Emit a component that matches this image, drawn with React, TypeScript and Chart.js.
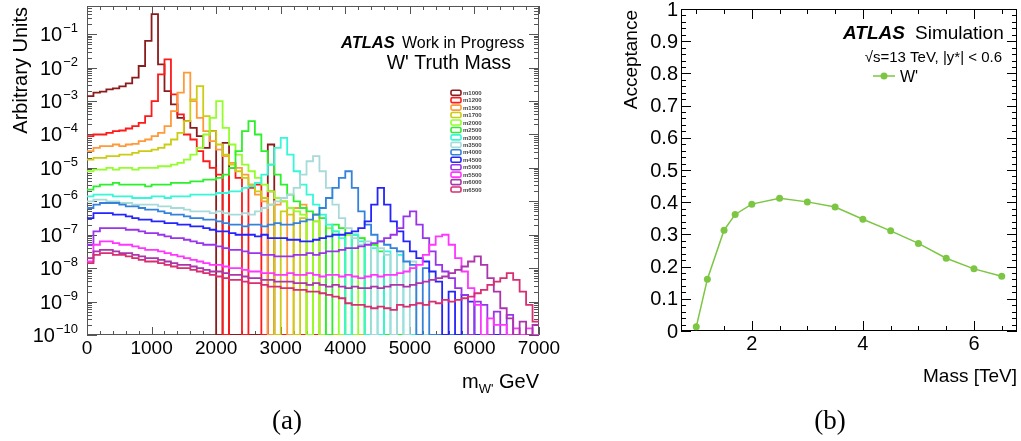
import React, { useEffect, useRef } from 'react';
import { Chart, registerables } from 'chart.js';

Chart.register(...registerables);

const FONT = '"Liberation Sans", Arial, Helvetica, sans-serif';
const SERIF = '"Liberation Serif", "DejaVu Serif", serif';

// ---------------- Left panel: W' truth mass histograms ----------------
// bins of 100 GeV from 0 to 7000 GeV; values are log10(bin content), -10 = empty bin
const BIN_WIDTH_GEV = 100;
const N_BINS = 70;

const sampleNames = ['m1000', 'm1200', 'm1500', 'm1700', 'm2000', 'm2500', 'm3000', 'm3500', 'm4000', 'm4500', 'm5000', 'm5500', 'm6000', 'm6500'];
const sampleColors = ['#8b1c1c', '#ff1a1a', '#ff9a3a', '#cccc14', '#92ff2a', '#2cf02c', '#36f8d8', '#a8dada', '#3582dc', '#2424ff', '#9a34ea', '#ff36ff', '#ac34ac', '#d82e72'];

const logM1000 = [-2.85, -2.75, -2.72, -2.65, -2.62, -2.56, -2.47, -2.3, -1.95, -1.2,
  -0.4, -1.9, -2.7, -3.1, -3.5, -3.6, -3.8, -4.05, -4.4, -3.9,
  -10, -4.25, -10, -10, -10, -10, -10, -10, -4.3, -10,
  -10, -10, -10, -10, -10, -10, -10, -10, -10, -10,
  -10, -10, -10, -10, -10, -10, -10, -10, -10, -10,
  -10, -10, -10, -10, -10, -10, -10, -10, -10, -10,
  -10, -10, -10, -10, -10, -10, -10, -10, -10, -10];
const logM1200 = [-4.05, -4.0, -4.0, -3.95, -3.9, -3.88, -3.82, -3.75, -3.65, -3.45,
  -3.0, -2.2, -1.75, -2.8, -3.4, -4.0, -4.15, -4.5, -4.8, -5.0,
  -5.2, -10, -5.0, -5.3, -10, -5.6, -5.5, -10, -5.7, -10,
  -10, -10, -10, -10, -10, -10, -10, -10, -10, -10,
  -10, -10, -10, -10, -10, -10, -10, -10, -10, -10,
  -10, -10, -10, -10, -10, -10, -10, -10, -10, -10,
  -10, -10, -10, -10, -10, -10, -10, -10, -10, -10];
const logM1500 = [-4.5, -4.4, -4.35, -4.35, -4.3, -4.35, -4.3, -4.28, -4.2, -4.15,
  -4.05, -3.95, -3.75, -3.3, -2.75, -2.15, -3.0, -3.5, -3.9, -4.2,
  -4.45, -4.65, -4.85, -5.0, -5.2, -5.5, -5.8, -6.0, -10, -6.1,
  -6.0, -10, -6.2, -6.1, -10, -6.4, -10, -10, -10, -10,
  -10, -10, -10, -10, -10, -10, -10, -10, -10, -10,
  -10, -10, -10, -10, -10, -10, -10, -10, -10, -10,
  -10, -10, -10, -10, -10, -10, -10, -10, -10, -10];
const logM1700 = [-4.75, -4.7, -4.7, -4.65, -4.65, -4.6, -4.6, -4.55, -4.5, -4.5,
  -4.45, -4.4, -4.3, -4.15, -3.95, -3.6, -2.95, -2.55, -3.45, -3.9,
  -4.3, -4.6, -4.9, -5.1, -5.3, -5.5, -5.7, -5.9, -6.1, -10,
  -6.3, -6.4, -10, -6.5, -10, -6.6, -10, -10, -10, -10,
  -10, -10, -10, -10, -10, -10, -10, -10, -10, -10,
  -10, -10, -10, -10, -10, -10, -10, -10, -10, -10,
  -10, -10, -10, -10, -10, -10, -10, -10, -10, -10];
const logM2000 = [-5.1, -5.05, -5.05, -5.0, -5.05, -5.0, -5.0, -5.05, -5.0, -5.0,
  -5.0, -4.95, -4.95, -4.9, -4.85, -4.75, -4.6, -4.4, -4.0, -3.5,
  -3.0, -3.8, -4.3, -4.6, -4.9, -5.1, -5.3, -5.5, -5.7, -5.9,
  -6.0, -6.2, -6.3, -6.4, -10, -6.6, -10, -6.8, -6.9, -10,
  -7.0, -10, -7.1, -10, -10, -10, -10, -10, -10, -10,
  -10, -10, -10, -10, -10, -10, -10, -10, -10, -10,
  -10, -10, -10, -10, -10, -10, -10, -10, -10, -10];
const logM2500 = [-5.65, -5.55, -5.5, -5.5, -5.45, -5.5, -5.5, -5.5, -5.5, -5.55,
  -5.5, -5.5, -5.5, -5.45, -5.45, -5.45, -5.4, -5.4, -5.35, -5.35,
  -5.3, -5.2, -5.0, -4.5, -3.9, -3.6, -4.0, -4.5, -4.9, -5.2,
  -5.5, -5.8, -6.0, -6.2, -6.3, -6.4, -6.5, -10, -6.7, -6.8,
  -10, -7.0, -7.1, -10, -7.3, -7.5, -10, -10, -10, -10,
  -10, -10, -10, -10, -10, -10, -10, -10, -10, -10,
  -10, -10, -10, -10, -10, -10, -10, -10, -10, -10];
const logM3000 = [-5.85, -5.8, -5.8, -5.8, -5.85, -5.85, -5.85, -5.9, -5.9, -5.9,
  -5.85, -5.85, -5.9, -5.85, -5.85, -5.85, -5.8, -5.8, -5.8, -5.8,
  -5.75, -5.75, -5.7, -5.7, -5.6, -5.55, -5.45, -5.2, -4.9, -4.4,
  -4.1, -4.6, -5.1, -5.5, -5.8, -6.1, -6.4, -6.7, -6.9, -7.1,
  -10, -7.0, -7.2, -10, -7.4, -10, -7.5, -10, -7.6, -10,
  -10, -10, -10, -10, -10, -10, -10, -10, -10, -10,
  -10, -10, -10, -10, -10, -10, -10, -10, -10, -10];
const logM3500 = [-6.0, -5.95, -5.95, -6.0, -6.0, -6.05, -6.05, -6.1, -6.1, -6.1,
  -6.1, -6.15, -6.15, -6.2, -6.2, -6.25, -6.3, -6.3, -6.3, -6.35,
  -6.3, -6.35, -6.4, -6.4, -6.35, -6.4, -6.3, -6.2, -6.1, -6.0,
  -5.9, -5.8, -5.6, -5.2, -4.8, -4.65, -5.1, -5.6, -6.1, -6.5,
  -6.8, -7.1, -7.3, -7.2, -10, -7.4, -7.6, -10, -7.5, -10,
  -7.8, -10, -10, -10, -10, -10, -10, -10, -10, -10,
  -10, -10, -10, -10, -10, -10, -10, -10, -10, -10];
const logM4000 = [-6.2, -6.1, -6.05, -6.05, -6.05, -6.1, -6.15, -6.15, -6.2, -6.25,
  -6.25, -6.3, -6.35, -6.4, -6.4, -6.45, -6.5, -6.5, -6.55, -6.55,
  -6.6, -6.65, -6.7, -6.7, -6.75, -6.7, -6.7, -6.75, -6.7, -6.65,
  -6.7, -6.7, -6.65, -6.6, -6.55, -6.4, -6.2, -5.9, -5.6, -5.3,
  -5.1, -5.6, -6.3, -6.7, -7.0, -7.2, -7.3, -7.4, -7.5, -7.8,
  -7.9, -10, -8.0, -10, -10, -10, -10, -10, -10, -10,
  -10, -10, -10, -10, -10, -10, -10, -10, -10, -10];
const logM4500 = [-6.5, -6.35, -6.35, -6.35, -6.4, -6.4, -6.45, -6.5, -6.55, -6.55,
  -6.6, -6.6, -6.65, -6.65, -6.7, -6.7, -6.75, -6.75, -6.8, -6.85,
  -6.9, -6.9, -6.95, -7.0, -7.0, -7.0, -7.05, -7.0, -7.1, -7.1,
  -7.1, -7.15, -7.15, -7.2, -7.2, -7.15, -7.1, -7.05, -7.0, -7.0,
  -6.95, -6.9, -6.8, -6.6, -6.1, -5.6, -6.1, -6.6, -6.9, -7.2,
  -7.5, -7.7, -7.8, -8.1, -8.4, -10, -8.7, -10, -8.8, -9.0,
  -10, -10, -10, -10, -10, -10, -10, -10, -10, -10];
const logM5000 = [-7.3, -6.9, -6.8, -6.8, -6.8, -6.8, -6.85, -6.85, -6.9, -6.95,
  -6.95, -7.0, -7.05, -7.1, -7.1, -7.15, -7.2, -7.25, -7.3, -7.3,
  -7.35, -7.4, -7.45, -7.45, -7.5, -7.55, -7.55, -7.6, -7.6, -7.65,
  -7.65, -7.65, -7.6, -7.6, -7.55, -7.6, -7.55, -7.5, -7.5, -7.45,
  -7.4, -7.4, -7.35, -7.3, -7.25, -7.2, -7.1, -7.0, -6.8, -6.45,
  -6.3, -6.7, -7.1, -7.5, -7.9, -8.1, -8.3, -8.6, -8.8, -10,
  -9.0, -9.1, -10, -9.3, -10, -9.4, -10, -10, -10, -10];
const logM5500 = [-7.8, -7.3, -7.2, -7.2, -7.25, -7.3, -7.3, -7.35, -7.4, -7.45,
  -7.45, -7.5, -7.55, -7.6, -7.65, -7.7, -7.75, -7.8, -7.85, -7.9,
  -7.9, -7.95, -8.0, -8.0, -8.05, -8.1, -8.1, -8.15, -8.15, -8.2,
  -8.2, -8.15, -8.2, -8.2, -8.15, -8.2, -8.25, -8.2, -8.2, -8.25,
  -8.2, -8.25, -8.3, -8.25, -8.2, -8.25, -8.2, -8.2, -8.15, -8.1,
  -8.0, -7.9, -7.6, -7.3, -7.05, -7.0, -7.3, -7.7, -8.1, -8.6,
  -9.1, -10, -9.5, -9.7, -9.7, -10, -9.8, -10, -9.8, -10];
const logM6000 = [-7.7, -7.5, -7.45, -7.45, -7.5, -7.55, -7.55, -7.6, -7.65, -7.7,
  -7.7, -7.75, -7.8, -7.85, -7.9, -7.9, -7.95, -8.0, -8.05, -8.1,
  -8.1, -8.15, -8.2, -8.2, -8.25, -8.3, -8.3, -8.35, -8.35, -8.4,
  -8.4, -8.4, -8.45, -8.45, -8.5, -8.45, -8.5, -8.55, -8.5, -8.55,
  -8.6, -8.55, -8.6, -8.6, -8.55, -8.6, -8.55, -8.5, -8.5, -8.55,
  -8.5, -8.45, -8.4, -8.35, -8.3, -8.25, -8.15, -8.05, -7.95, -7.8,
  -7.65, -7.9, -8.3, -8.7, -9.2, -9.5, -10, -9.6, -10, -9.7];
const logM6500 = [-7.85, -7.6, -7.55, -7.55, -7.6, -7.6, -7.65, -7.7, -7.75, -7.8,
  -7.8, -7.85, -7.9, -7.95, -8.0, -8.0, -8.05, -8.1, -8.15, -8.2,
  -8.25, -8.3, -8.35, -8.35, -8.4, -8.45, -8.45, -8.5, -8.55, -8.55,
  -8.6, -8.6, -8.65, -8.65, -8.7, -8.7, -8.75, -8.8, -8.85, -8.9,
  -9.05, -9.1, -9.1, -9.15, -9.2, -9.15, -9.2, -9.25, -9.1, -9.15,
  -9.1, -9.05, -9.1, -9.0, -9.05, -8.95, -9.0, -8.95, -8.9, -8.85,
  -8.75, -8.65, -8.5, -8.4, -8.3, -8.15, -8.35, -8.7, -9.1, -9.6];

const histLogs = [logM1000, logM1200, logM1500, logM1700, logM2000, logM2500, logM3000, logM3500, logM4000, logM4500, logM5000, logM5500, logM6000, logM6500];

const leftXTicks = [0, 1000, 2000, 3000, 4000, 5000, 6000, 7000];
const leftYExponents = [-10, -9, -8, -7, -6, -5, -4, -3, -2, -1];

// ---------------- Right panel: acceptance ----------------
const accMassTeV = [1.0, 1.2, 1.5, 1.7, 2.0, 2.5, 3.0, 3.5, 4.0, 4.5, 5.0, 5.5, 6.0, 6.5];
const acceptance = [0.013, 0.161, 0.313, 0.362, 0.394, 0.412, 0.401, 0.385, 0.347, 0.311, 0.272, 0.226, 0.193, 0.170];
const accYTicks = [0, 0.1, 0.2, 0.3, 0.4, 0.5, 0.6, 0.7, 0.8, 0.9, 1];
const accXTicks = [2, 4, 6];
const ACC_COLOR = '#7cc644';

function line(ctx: CanvasRenderingContext2D, x1: number, y1: number, x2: number, y2: number) {
  ctx.moveTo(x1, y1);
  ctx.lineTo(x2, y2);
}

const leftDeco = {
  id: 'leftDeco',
  beforeDatasetsDraw(chart: any) {
    const { ctx, chartArea: a } = chart;
    const xs = chart.scales.x;
    const ys = chart.scales.y;
    ctx.save();
    ctx.strokeStyle = '#555';
    ctx.lineWidth = 1;
    ctx.beginPath();
    for (let v = 0; v <= 7000; v += 200) {
      const px = Math.round(xs.getPixelForValue(v)) + 0.5;
      const len = v % 1000 === 0 ? 8 : 4;
      line(ctx, px, a.bottom, px, a.bottom - len);
      line(ctx, px, a.top, px, a.top + len);
    }
    for (let e = -10; e <= -1; e++) {
      for (let m = 1; m <= 9; m++) {
        const v = m * Math.pow(10, e);
        if (v > ys.max) break;
        const py = Math.round(ys.getPixelForValue(v)) + 0.5;
        const len = m === 1 ? 10 : 5;
        line(ctx, a.left, py, a.left + len, py);
        line(ctx, a.right, py, a.right - len, py);
      }
    }
    ctx.stroke();
    ctx.strokeRect(Math.round(a.left) + 0.5, Math.round(a.top) + 0.5, Math.round(a.right - a.left) - 1, Math.round(a.bottom - a.top) - 1);
    ctx.restore();
  },
  afterDraw(chart: any) {
    const { ctx, chartArea: a } = chart;
    const xs = chart.scales.x;
    const ys = chart.scales.y;
    ctx.save();
    ctx.fillStyle = '#000';
    // y labels 10^n
    for (const e of leftYExponents) {
      const py = ys.getPixelForValue(Math.pow(10, e));
      const expStr = '\u2212' + String(-e);
      ctx.font = `13px ${FONT}`;
      const ew = ctx.measureText(expStr).width;
      ctx.font = `20px ${FONT}`;
      const bw = ctx.measureText('10').width;
      const R = 78;
      ctx.textAlign = 'left';
      ctx.textBaseline = 'alphabetic';
      ctx.fillText('10', R - ew - bw - 1, py + 7);
      ctx.font = `13px ${FONT}`;
      ctx.fillText(expStr, R - ew, py - 2);
    }
    // x labels
    ctx.font = `19px ${FONT}`;
    ctx.textAlign = 'center';
    ctx.textBaseline = 'middle';
    for (const v of leftXTicks) {
      ctx.fillText(String(v), xs.getPixelForValue(v), a.bottom + 14);
    }
    // x title: m_W' GeV
    ctx.textBaseline = 'alphabetic';
    ctx.textAlign = 'left';
    ctx.font = `20px ${FONT}`;
    const wm = ctx.measureText('m').width;
    const wg = ctx.measureText(' GeV').width;
    ctx.font = `13px ${FONT}`;
    const ws = ctx.measureText("W'").width;
    let x0 = a.right - (wm + ws + wg);
    ctx.font = `20px ${FONT}`;
    ctx.fillText('m', x0, 388);
    ctx.font = `13px ${FONT}`;
    ctx.fillText("W'", x0 + wm, 393);
    ctx.font = `20px ${FONT}`;
    ctx.fillText(' GeV', x0 + wm + ws, 388);
    // y title
    ctx.save();
    ctx.translate(21, 7);
    ctx.rotate(-Math.PI / 2);
    ctx.textAlign = 'right';
    ctx.textBaseline = 'middle';
    ctx.font = `20px ${FONT}`;
    ctx.fillText('Arbitrary Units', 0, 0);
    ctx.restore();
    // ATLAS label
    ctx.textAlign = 'left';
    ctx.font = `italic bold 16.5px ${FONT}`;
    ctx.fillText('ATLAS', 341, 48);
    ctx.font = `16px ${FONT}`;
    ctx.fillText('Work in Progress', 402, 48);
    ctx.textAlign = 'right';
    ctx.font = `19.5px ${FONT}`;
    ctx.fillText("W' Truth Mass", 511, 69);
    // legend
    ctx.textAlign = 'left';
    ctx.textBaseline = 'middle';
    for (let k = 0; k < sampleNames.length; k++) {
      const y = 92.7 + k * 7.45;
      ctx.strokeStyle = sampleColors[k];
      ctx.lineWidth = 1.6;
      ctx.beginPath();
      ctx.roundRect(451, y - 2.5, 10, 5, 1.5);
      ctx.stroke();
      ctx.fillStyle = '#444';
      ctx.font = `bold 6px ${FONT}`;
      ctx.fillText(sampleNames[k], 463, y + 0.5);
    }
    // caption
    ctx.fillStyle = '#000';
    ctx.font = `27px ${SERIF}`;
    ctx.textAlign = 'center';
    ctx.textBaseline = 'alphabetic';
    ctx.fillText('(a)', 287, 429);
    ctx.restore();
  },
};

const rightDeco = {
  id: 'rightDeco',
  beforeDatasetsDraw(chart: any) {
    const { ctx, chartArea: a } = chart;
    const xs = chart.scales.x;
    const ys = chart.scales.y;
    ctx.save();
    ctx.strokeStyle = '#000';
    ctx.lineWidth = 1;
    ctx.beginPath();
    for (let i = 0; i <= 50; i++) {
      const v = i * 0.02;
      const py = Math.round(ys.getPixelForValue(v)) + 0.5;
      const len = i % 5 === 0 ? 10 : 5;
      line(ctx, a.left, py, a.left + len, py);
      line(ctx, a.right, py, a.right - len, py);
    }
    for (let i = 2; i <= 13; i++) {
      const v = i * 0.5;
      const px = Math.round(xs.getPixelForValue(v)) + 0.5;
      const len = i % 4 === 0 ? 10 : 5;
      line(ctx, px, a.bottom, px, a.bottom - len);
      line(ctx, px, a.top, px, a.top + len);
    }
    ctx.stroke();
    ctx.strokeRect(Math.round(a.left) + 0.5, Math.round(a.top) + 0.5, Math.round(a.right - a.left) - 1, Math.round(a.bottom - a.top) - 1);
    ctx.restore();
  },
  afterDraw(chart: any) {
    const { ctx, chartArea: a } = chart;
    const xs = chart.scales.x;
    const ys = chart.scales.y;
    ctx.save();
    ctx.fillStyle = '#000';
    ctx.font = `20px ${FONT}`;
    ctx.textAlign = 'right';
    ctx.textBaseline = 'middle';
    for (const v of accYTicks) {
      ctx.fillText(String(v), a.left - 3, ys.getPixelForValue(v) + 1);
    }
    ctx.textAlign = 'center';
    for (const v of accXTicks) {
      ctx.fillText(String(v), xs.getPixelForValue(v), a.bottom + 13);
    }
    // titles
    ctx.textAlign = 'right';
    ctx.textBaseline = 'alphabetic';
    ctx.font = `19px ${FONT}`;
    ctx.fillText('Mass [TeV]', a.right, 382);
    ctx.save();
    ctx.translate(72, 10);
    ctx.rotate(-Math.PI / 2);
    ctx.textAlign = 'right';
    ctx.textBaseline = 'middle';
    ctx.font = `19px ${FONT}`;
    ctx.fillText('Acceptance', 0, 0);
    ctx.restore();
    // ATLAS Simulation
    ctx.textAlign = 'left';
    ctx.font = `italic bold 19px ${FONT}`;
    ctx.fillText('ATLAS', 283, 39);
    ctx.font = `19px ${FONT}`;
    ctx.fillText('Simulation', 355, 39);
    ctx.textAlign = 'right';
    ctx.font = `15px ${FONT}`;
    ctx.fillText('\u221As=13 TeV, |y*| < 0.6', 442, 62);
    // legend
    ctx.strokeStyle = ACC_COLOR;
    ctx.lineWidth = 1.5;
    ctx.beginPath();
    line(ctx, 313, 76, 335, 76);
    ctx.stroke();
    ctx.fillStyle = ACC_COLOR;
    ctx.beginPath();
    ctx.arc(324, 76, 3.5, 0, Math.PI * 2);
    ctx.fill();
    ctx.fillStyle = '#000';
    ctx.textAlign = 'left';
    ctx.font = `16px ${FONT}`;
    ctx.fillText("W'", 340, 82);
    // caption
    ctx.font = `27px ${SERIF}`;
    ctx.textAlign = 'center';
    ctx.fillText('(b)', 270, 429);
    ctx.restore();
  },
};

export default function App() {
  const leftRef = useRef<HTMLCanvasElement>(null);
  const rightRef = useRef<HTMLCanvasElement>(null);

  useEffect(() => {
    const leftW = 560;
    const H = 441;
    const datasets = histLogs.map((logs, k) => {
      const pts = logs.map((L, i) => ({ x: i * BIN_WIDTH_GEV, y: Math.pow(10, L) }));
      pts.push({ x: N_BINS * BIN_WIDTH_GEV, y: Math.pow(10, logs[N_BINS - 1]) });
      return {
        label: sampleNames[k],
        data: pts,
        borderColor: sampleColors[k],
        backgroundColor: sampleColors[k],
        borderWidth: 1.8,
        stepped: 'before' as const,
        pointRadius: 0,
        fill: false,
        order: histLogs.length - k,
      };
    });
    const left = new Chart(leftRef.current!, {
      type: 'line',
      data: { datasets },
      options: {
        animation: false,
        responsive: false,
        maintainAspectRatio: false,
        events: [],
        layout: { padding: { left: 87, top: 6, right: leftW - 539, bottom: H - 335 } },
        plugins: { legend: { display: false }, tooltip: { enabled: false } },
        scales: {
          x: { type: 'linear', min: 0, max: 7000, display: false },
          y: { type: 'logarithmic', min: 1e-10, max: 0.7, display: false },
        },
      },
      plugins: [leftDeco],
    });

    const rightW = 461;
    const right = new Chart(rightRef.current!, {
      type: 'line',
      data: {
        datasets: [{
          label: "W'",
          data: accMassTeV.map((m, i) => ({ x: m, y: acceptance[i] })),
          borderColor: ACC_COLOR,
          backgroundColor: ACC_COLOR,
          borderWidth: 1.5,
          pointRadius: 3.5,
          pointBorderWidth: 0,
          pointBackgroundColor: ACC_COLOR,
          tension: 0,
          fill: false,
        }],
      },
      options: {
        animation: false,
        responsive: false,
        maintainAspectRatio: false,
        events: [],
        layout: { padding: { left: 681 - 560, top: 9, right: rightW - (1017 - 560), bottom: H - 331 } },
        plugins: { legend: { display: false }, tooltip: { enabled: false } },
        scales: {
          x: { type: 'linear', min: 0.725, max: 6.775, display: false },
          y: { type: 'linear', min: 0, max: 1, display: false },
        },
      },
      plugins: [rightDeco],
    });

    return () => {
      left.destroy();
      right.destroy();
    };
  }, []);

  return (
    <div style={{ position: 'fixed', left: 0, top: 0, width: 1021, height: 441, background: '#fff', overflow: 'hidden' }}>
      <canvas ref={leftRef} width={560} height={441} style={{ position: 'absolute', left: 0, top: 0, width: 560, height: 441 }} />
      <canvas ref={rightRef} width={461} height={441} style={{ position: 'absolute', left: 560, top: 0, width: 461, height: 441 }} />
    </div>
  );
}
